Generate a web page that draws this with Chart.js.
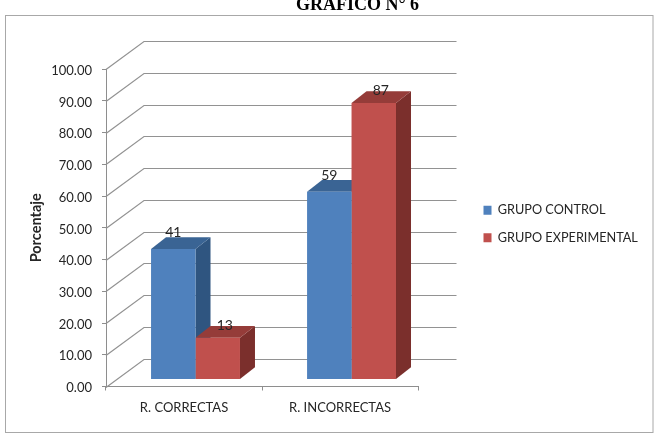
<!DOCTYPE html>
<html>
<head>
<meta charset="utf-8">
<style>
html, body { margin: 0; padding: 0; background: #fff; }
#wrap { width: 657px; height: 441px; }
</style>
<script src="https://cdn.jsdelivr.net/npm/chart.js@4"></script>
</head>
<body>
<div id="wrap"><canvas id="chart" width="657" height="441"></canvas></div>
<script>
// Series and labels
const categories = ['R. CORRECTAS', 'R. INCORRECTAS'];
const grupoControl = [41, 59];
const grupoExperimental = [13, 87];
const seriesNames = ['GRUPO CONTROL', 'GRUPO EXPERIMENTAL'];
const frontColors = ['#4F81BD', '#C0504D'];
const topColors = ['#3A6494', '#953C39'];
const sideColors = ['#2F5580', '#7B2F2C'];

// Pseudo-3D projection, in pixels
const WALL = { dx: 38, dy: -28, right: 456.5 };
const BAR_DEPTH = { dx: 15, dy: -11.7 };
const BAR_SHIFT = { dx: 11.5, dy: -7.5 };
const LABEL_OFFSET = [{ dx: 0, dy: -16.5 }, { dx: 7, dy: -12 }];
const FONT = 'Lato, Carlito, sans-serif';
const INK = '#262626';
const LEGEND_PAD = 15;
const LEGEND_BOX = { left: 483.5, middle: 224, width: 190 };
const Y_LABEL_NUDGE = 1.5;

function poly(ctx, pts, fill) {
  ctx.beginPath();
  pts.forEach((p, i) => i ? ctx.lineTo(p[0], p[1]) : ctx.moveTo(p[0], p[1]));
  ctx.closePath();
  ctx.fillStyle = fill;
  ctx.fill();
}

const scene = {
  id: 'scene',
  afterLayout(chart) {
    // Bars stand on the floor, so their axes sit inside the projected box
    const { xBars, yBars, y } = chart.scales;
    xBars.left += BAR_SHIFT.dx; xBars.right += BAR_SHIFT.dx; xBars.configure();
    yBars.top += BAR_SHIFT.dy; yBars.bottom += BAR_SHIFT.dy; yBars.configure();

    // Centre the value labels optically on their tick marks
    y.getLabelItems().forEach(item => {
      const [tx, ty] = item.options.translation;
      item.options.translation = [tx, ty + Y_LABEL_NUDGE];
    });

    // Title sits over the plot's centre, legend to the right of the plot
    const t = chart.titleBlock;
    t.left = 200; t.right = 515;
    const lg = chart.legend;
    const h = lg.bottom - lg.top;
    lg.left = LEGEND_BOX.left - LEGEND_PAD;
    lg.right = lg.left + LEGEND_BOX.width;
    lg.top = LEGEND_BOX.middle - h / 2;
    lg.bottom = lg.top + h;
  },
  beforeDraw(chart) {
    const ctx = chart.ctx;
    ctx.save();
    ctx.fillStyle = '#fff';
    ctx.fillRect(0, 0, chart.width, chart.height);
    ctx.strokeStyle = '#a8a8a8';
    ctx.lineWidth = 1;
    ctx.strokeRect(5.5, 15.5, 647.5, 417);
    ctx.restore();
  },
  beforeDatasetsDraw(chart) {
    const ctx = chart.ctx;
    const { x, y } = chart.scales;
    ctx.save();

    // Gridlines: diagonal along the side wall, then across the back wall
    ctx.strokeStyle = '#929292';
    ctx.lineWidth = 1.2;
    y.ticks.forEach(tick => {
      const py = Math.round(y.getPixelForValue(tick.value)) + 0.5;
      ctx.beginPath();
      ctx.moveTo(x.left, py);
      ctx.lineTo(x.left + WALL.dx, py + WALL.dy);
      ctx.lineTo(WALL.right, py + WALL.dy);
      ctx.stroke();
    });

    // Side and top faces of each bar; front faces are painted over them
    chart.data.datasets.forEach((ds, d) => {
      chart.getDatasetMeta(d).data.forEach(bar => {
        const half = bar.width / 2;
        const l = bar.x - half, r = bar.x + half;
        const t = bar.y, b = bar.base;
        const { dx, dy } = BAR_DEPTH;
        poly(ctx, [[r, t], [r + dx, t + dy], [r + dx, b + dy], [r, b]], sideColors[d]);
        poly(ctx, [[l, t], [l + dx, t + dy], [r + dx, t + dy], [r, t]], topColors[d]);
      });
    });
    ctx.restore();
  },
  afterDatasetsDraw(chart) {
    const ctx = chart.ctx;
    ctx.save();
    ctx.font = '14px ' + FONT;
    ctx.fillStyle = INK;
    ctx.textAlign = 'center';
    ctx.textBaseline = 'middle';
    chart.data.datasets.forEach((ds, d) => {
      chart.getDatasetMeta(d).data.forEach((bar, i) => {
        ctx.fillText(String(ds.data[i]), bar.x + LABEL_OFFSET[d].dx, bar.y + LABEL_OFFSET[d].dy);
      });
    });
    ctx.restore();
  }
};

new Chart(document.getElementById('chart'), {
  type: 'bar',
  data: {
    labels: categories,
    datasets: [
      { label: seriesNames[0], data: grupoControl, backgroundColor: frontColors[0], xAxisID: 'xBars', yAxisID: 'yBars' },
      { label: seriesNames[1], data: grupoExperimental, backgroundColor: frontColors[1], xAxisID: 'xBars', yAxisID: 'yBars' }
    ]
  },
  plugins: [scene],
  options: {
    responsive: false,
    animation: false,
    events: [],
    categoryPercentage: 0.57,
    barPercentage: 1,
    clip: false,
    layout: { padding: { left: 0, right: 99.6, top: 0, bottom: 0 } },
    plugins: {
      tooltip: { enabled: false },
      title: {
        display: true,
        text: 'GRÁFICO N° 6',
        color: '#000',
        font: { family: '"Liberation Serif", serif', size: 18, weight: 'bold', lineHeight: 0.6 },
        padding: { top: 0, bottom: 58.4 }
      },
      legend: {
        display: true,
        position: 'right',
        labels: {
          boxWidth: 8,
          boxHeight: 9,
          padding: LEGEND_PAD,
          color: INK,
          font: { family: FONT, size: 12.7 }
        }
      }
    },
    scales: {
      x: {
        type: 'category',
        labels: categories,
        afterFit(s) { s.height = 54.5; },
        grid: { drawOnChartArea: false, offset: true, drawTicks: true, tickLength: 4, color: '#8e8e8e' },
        border: { color: '#8e8e8e' },
        ticks: { color: INK, font: { family: FONT, size: 13 }, padding: 10, maxRotation: 0 }
      },
      xBars: {
        type: 'category',
        labels: categories,
        display: false,
        offset: true
      },
      y: {
        type: 'linear',
        min: 0,
        max: 100,
        position: 'left',
        afterFit(s) { s.width = 106; },
        title: {
          display: true,
          text: 'Porcentaje',
          color: INK,
          font: { family: FONT, size: 14.5, weight: 'bold' },
          padding: { top: 28, bottom: 0 }
        },
        grid: { drawOnChartArea: false, drawTicks: true, tickLength: 4, color: '#8e8e8e' },
        border: { color: '#8e8e8e' },
        ticks: {
          stepSize: 10,
          color: INK,
          font: { family: FONT, size: 13 },
          padding: 10,
          callback: v => v.toFixed(2)
        }
      },
      yBars: {
        type: 'linear',
        min: 0,
        max: 100,
        display: false
      }
    }
  }
});
</script>
</body>
</html>
